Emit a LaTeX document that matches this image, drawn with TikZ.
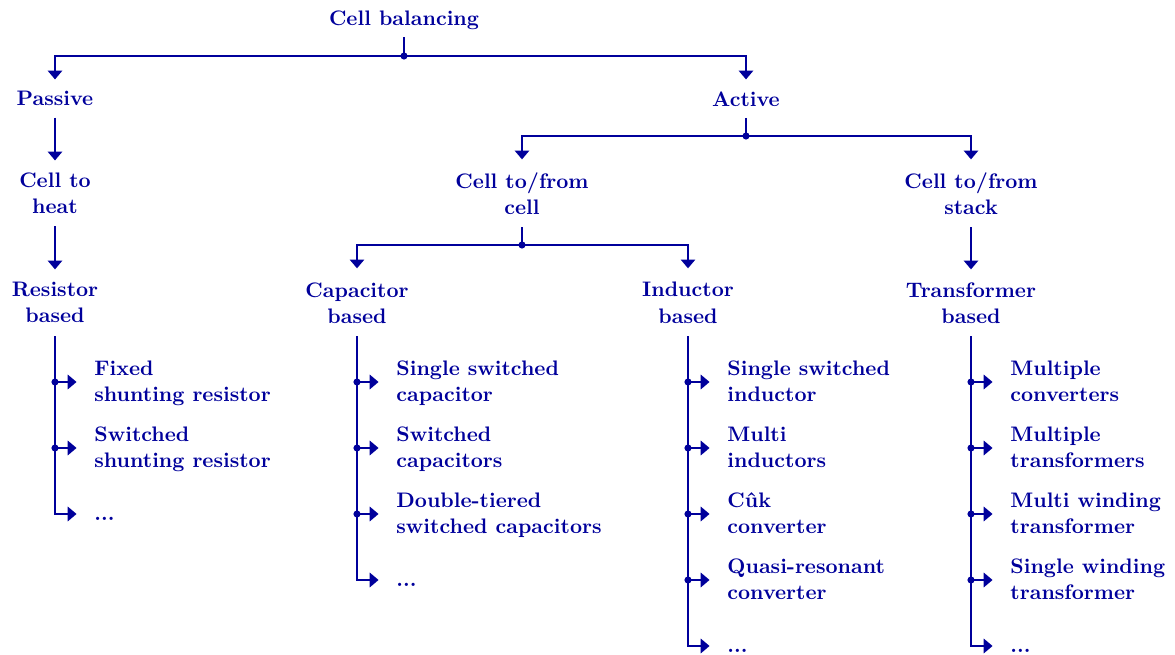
\documentclass[tikz,border=0pt]{standalone}
\usetikzlibrary{arrows.meta}
\definecolor{tb}{RGB}{0,0,155}
\newcommand\topst{\rule{0pt}{8.7pt}}
\newcommand\botst{\rule[-2.6pt]{0pt}{2.6pt}}
\begin{document}
\begin{tikzpicture}[x=0.476pt,y=-0.476pt,
  every node/.style={font=\fontsize{10}{12.4}\selectfont\bfseries, text=tb, inner sep=0pt},
  lbl/.style={align=center, anchor=north},
  item/.style={align=left, anchor=west},
  conn/.style={draw=tb, line width=1.4pt},
  arr/.style={conn, -{Triangle[width=6.8pt,length=4.2pt]}},
  jdot/.style={circle, fill=tb, minimum size=3.4pt, inner sep=0pt}]
\useasboundingbox (0,0) rectangle (1175,655);

% main labels
\node[lbl] (cb)  at (404,10)  {Cell balancing};
\node[lbl] (pas) at (55,91)   {Passive};
\node[lbl] (act) at (746,91)  {Active};
\node[lbl] (c2h) at (55,172)  {Cell to\\heat};
\node[lbl] (c2c) at (522,172) {Cell to/from\\cell};
\node[lbl] (c2s) at (971,172) {Cell to/from\\stack};
\node[lbl] (res) at (55,282)  {Resistor\\based};
\node[lbl] (cap) at (357,282) {Capacitor\\based};
\node[lbl] (ind) at (688,282) {Inductor\\based};
\node[lbl] (tra) at (971,282) {Transformer\\based};

% junctions
\coordinate (j1) at (404,56);
\coordinate (j2) at (746,136);
\coordinate (j3) at (522,245);

\draw[conn, shorten <=3.7pt] (cb.south) -- (j1);
\draw[arr, shorten >=5.5pt] (j1) -| (pas.north);
\draw[arr, shorten >=5.5pt] (j1) -| (act.north);
\node[jdot] at (j1) {};

\draw[arr, shorten <=5.3pt, shorten >=5.5pt] (pas.south) -- (c2h.north);
\draw[conn, shorten <=5.3pt] (act.south) -- (j2);
\draw[arr, shorten >=6pt] (j2) -| (c2c.north);
\draw[arr, shorten >=6pt] (j2) -| (c2s.north);
\node[jdot] at (j2) {};

\draw[arr, shorten <=6pt, shorten >=6pt] (c2h.south) -- (res.north);
\draw[conn, shorten <=6pt] (c2c.south) -- (j3);
\draw[arr, shorten >=6.5pt] (j3) -| (cap.north);
\draw[arr, shorten >=6.5pt] (j3) -| (ind.north);
\node[jdot] at (j3) {};
\draw[arr, shorten <=6pt, shorten >=6pt] (c2s.south) -- (tra.north);

% Resistor items
\node[item] (r1) at (94,382) {\topst Fixed\\shunting resistor\botst};
\node[item] (r2) at (94,448) {\topst Switched\\shunting resistor\botst};
\node[item] (r3) at (94,514) {\topst...\botst};
\foreach \i in {1,2} {
  \draw[arr, shorten >=8.3pt] (res.south |- r\i.west) -- (r\i.west);
  \node[jdot] at (res.south |- r\i.west) {};
}
\draw[arr, shorten <=6pt, shorten >=8.3pt] (res.south) |- (r3.west);

% Capacitor items
\node[item] (c1) at (396,382) {\topst Single switched\\capacitor\botst};
\node[item] (c2) at (396,448) {\topst Switched\\capacitors\botst};
\node[item] (c3) at (396,514) {\topst Double-tiered\\switched capacitors\botst};
\node[item] (c4) at (396,580) {\topst...\botst};
\foreach \i in {1,2,3} {
  \draw[arr, shorten >=8.3pt] (cap.south |- c\i.west) -- (c\i.west);
  \node[jdot] at (cap.south |- c\i.west) {};
}
\draw[arr, shorten <=6pt, shorten >=8.3pt] (cap.south) |- (c4.west);

% Inductor items
\node[item] (i1) at (727,382) {\topst Single switched\\inductor\botst};
\node[item] (i2) at (727,448) {\topst Multi\\inductors\botst};
\node[item] (i3) at (727,514) {\topst C\^uk\\converter\botst};
\node[item] (i4) at (727,580) {\topst Quasi-resonant\\converter\botst};
\node[item] (i5) at (727,646) {\topst...\botst};
\foreach \i in {1,2,3,4} {
  \draw[arr, shorten >=8.3pt] (ind.south |- i\i.west) -- (i\i.west);
  \node[jdot] at (ind.south |- i\i.west) {};
}
\draw[arr, shorten <=6pt, shorten >=8.3pt] (ind.south) |- (i5.west);

% Transformer items
\node[item] (t1) at (1010,382) {\topst Multiple\\converters\botst};
\node[item] (t2) at (1010,448) {\topst Multiple\\transformers\botst};
\node[item] (t3) at (1010,514) {\topst Multi winding\\transformer\botst};
\node[item] (t4) at (1010,580) {\topst Single winding\\transformer\botst};
\node[item] (t5) at (1010,646) {\topst...\botst};
\foreach \i in {1,2,3,4} {
  \draw[arr, shorten >=8.3pt] (tra.south |- t\i.west) -- (t\i.west);
  \node[jdot] at (tra.south |- t\i.west) {};
}
\draw[arr, shorten <=6pt, shorten >=8.3pt] (tra.south) |- (t5.west);
\end{tikzpicture}
\end{document}
